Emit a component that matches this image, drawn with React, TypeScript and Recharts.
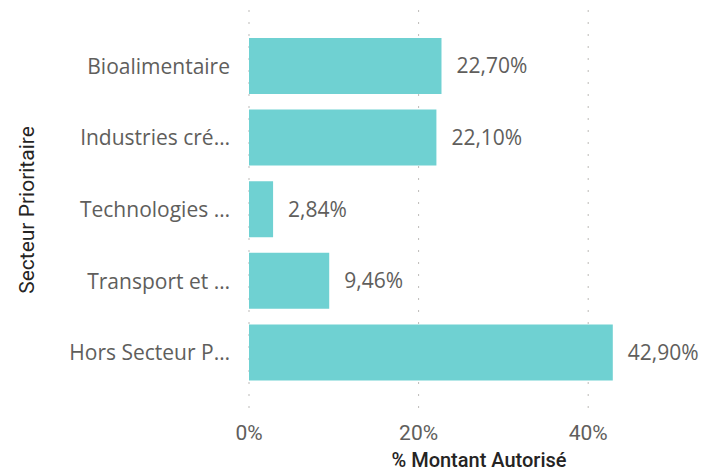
import React from 'react'
import { BarChart, Bar, XAxis, YAxis, CartesianGrid, LabelList, Label } from 'recharts'

const categories = [
  'Bioalimentaire',
  'Industries cré…',
  'Technologies …',
  'Transport et …',
  'Hors Secteur P…',
]
const montantShare = [0.227, 0.221, 0.0284, 0.0946, 0.429]
const xTicks = [0, 0.2, 0.4]
const xMax = 0.5

const data = categories.map((name, i) => ({ name, value: montantShare[i] }))

const LABEL_FONT = '"Open Sans", "Noto Sans", sans-serif'
const AXIS_FONT = 'Roboto, "DejaVu Sans", sans-serif'

const fmtPct = (v: number) => (v * 100).toFixed(2).replace('.', ',') + '%'

// eslint-disable-next-line @typescript-eslint/no-explicit-any
const CategoryTick = ({ x, y, payload }: any) => (
  <text
    x={x}
    y={y}
    textAnchor="end"
    dominantBaseline="central"
    fill="#605E5C"
    fontFamily={LABEL_FONT}
    fontSize={21}
  >
    {payload.value}
  </text>
)

// eslint-disable-next-line @typescript-eslint/no-explicit-any
const ValueTick = ({ x, y, payload }: any) => (
  <text
    x={x}
    y={y}
    textAnchor="middle"
    dominantBaseline="central"
    fill="#605E5C"
    fontFamily={AXIS_FONT}
    fontSize={21}
  >
    {Math.round(payload.value * 100)}%
  </text>
)

// only draw grid lines at the real ticks, not at the domain edge
// eslint-disable-next-line @typescript-eslint/no-explicit-any
const gridX = ({ xAxis, offset }: any) =>
  xTicks.map((t) =>
    xAxis && typeof xAxis.scale === 'function'
      ? xAxis.scale(t)
      : offset.left + (t / xMax) * offset.width
  )

export default function App() {
  return (
    <div style={{ position: 'fixed', left: 0, top: 0, width: 716, height: 473, background: '#fff' }}>
      <BarChart
        width={716}
        height={473}
        data={data}
        layout="vertical"
        margin={{ top: 10, right: 43, bottom: 33, left: 0 }}
      >
        <CartesianGrid
          horizontal={false}
          stroke="#BDBBB9"
          strokeDasharray="2 10"
          verticalCoordinatesGenerator={gridX}
        />
        <XAxis
          type="number"
          domain={[0, xMax]}
          ticks={xTicks}
          axisLine={false}
          tickLine={false}
          tickSize={0}
          tickMargin={23}
          height={30}
          tick={<ValueTick />}
        >
          <Label
            content={({ viewBox }: any) => (
              <text
                x={viewBox.x + viewBox.width / 2 + 18}
                y={viewBox.y + 50}
                textAnchor="middle"
                dominantBaseline="central"
                fill="#252423"
                fontFamily={AXIS_FONT}
                fontWeight={500}
                fontSize={20}
              >
                % Montant Autorisé
              </text>
            )}
          />
        </XAxis>
        <YAxis
          type="category"
          dataKey="name"
          width={249}
          axisLine={false}
          tickLine={false}
          tickSize={0}
          tickMargin={19}
          padding={{ top: 20, bottom: 22 }}
          interval={0}
          tick={<CategoryTick />}
        >
          <Label
            content={({ viewBox }: any) => (
              <text
                x={27}
                y={viewBox.y + viewBox.height / 2}
                transform={`rotate(-90 27 ${viewBox.y + viewBox.height / 2})`}
                textAnchor="middle"
                dominantBaseline="central"
                fill="#252423"
                fontFamily={AXIS_FONT}
                fontSize={21}
              >
                Secteur Prioritaire
              </text>
            )}
          />
        </YAxis>
        <Bar dataKey="value" fill="#6FD1D2" barSize={56} isAnimationActive={false}>
          <LabelList
            dataKey="value"
            position="right"
            offset={15}
            formatter={(v: any) => fmtPct(Number(v))}
            fill="#605E5C"
            fontFamily={LABEL_FONT}
            fontSize={21}
          />
        </Bar>
      </BarChart>
    </div>
  )
}
